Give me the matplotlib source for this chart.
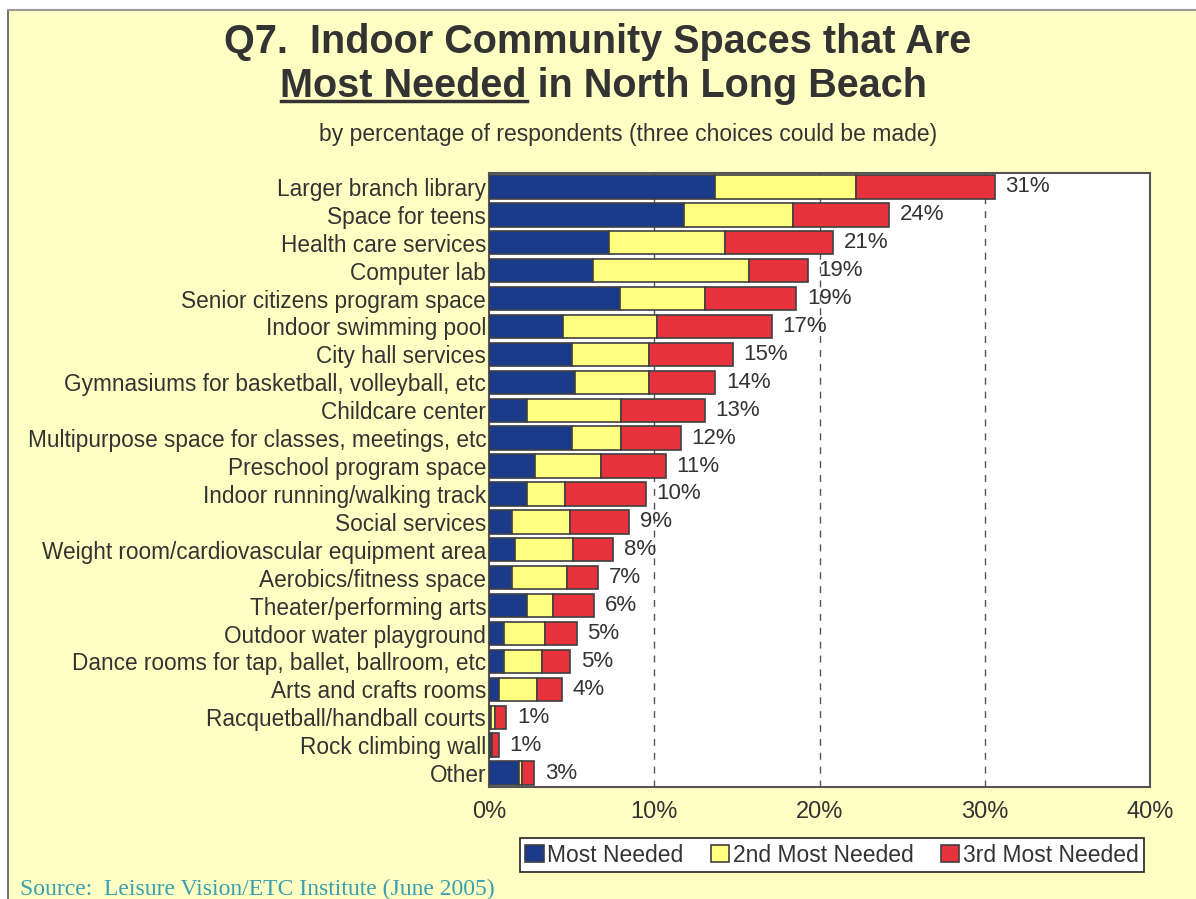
import numpy as np
import matplotlib
matplotlib.use("Agg")
import matplotlib.pyplot as plt
from matplotlib.lines import Line2D
from matplotlib.patches import Rectangle

categories = [
    "Larger branch library",
    "Space for teens",
    "Health care services",
    "Computer lab",
    "Senior citizens program space",
    "Indoor swimming pool",
    "City hall services",
    "Gymnasiums for basketball, volleyball, etc",
    "Childcare center",
    "Multipurpose space for classes, meetings, etc",
    "Preschool program space",
    "Indoor running/walking track",
    "Social services",
    "Weight room/cardiovascular equipment area",
    "Aerobics/fitness space",
    "Theater/performing arts",
    "Outdoor water playground",
    "Dance rooms for tap, ballet, ballroom, etc",
    "Arts and crafts rooms",
    "Racquetball/handball courts",
    "Rock climbing wall",
    "Other",
]
most_needed = [13.7, 11.8, 7.25, 6.3, 7.95, 4.5, 5.0, 5.2, 2.3, 5.0, 2.8,
               2.3, 1.4, 1.6, 1.4, 2.3, 0.9, 0.9, 0.6, 0.1, 0.1, 1.8]
second_needed = [8.5, 6.6, 7.05, 9.45, 5.15, 5.65, 4.7, 4.5, 5.7, 3.0, 4.0,
                 2.3, 3.5, 3.5, 3.3, 1.6, 2.5, 2.3, 2.3, 0.25, 0.1, 0.2]
third_needed = [8.4, 5.8, 6.5, 3.55, 5.5, 6.95, 5.05, 4.0, 5.05, 3.6, 3.9,
                4.9, 3.6, 2.4, 1.9, 2.45, 1.9, 1.7, 1.5, 0.7, 0.4, 0.75]
total_labels = ["31%", "24%", "21%", "19%", "19%", "17%", "15%", "14%", "13%",
                "12%", "11%", "10%", "9%", "8%", "7%", "6%", "5%", "5%", "4%",
                "1%", "1%", "3%"]
series_names = ["Most Needed", "2nd Most Needed", "3rd Most Needed"]
x_ticks = [0, 10, 20, 30, 40]

W, H = 1196, 899
BG = "#FFFFC4"
TXT = "#333333"
colors = ["#1C3A8A", "#FFFF80", "#E8323C"]

fig = plt.figure(figsize=(W / 100, H / 100), dpi=100)
fig.patch.set_facecolor("white")
# slide background with border on left/top
fig.patches.append(Rectangle((8 / W, 0), 1 - 8 / W, 1 - 10 / H, transform=fig.transFigure,
                             facecolor=BG, edgecolor="none", zorder=-10))
fig.lines.append(Line2D([8 / W, 8 / W], [0, 1 - 10 / H], transform=fig.transFigure,
                        color="#777777", lw=1.5))
fig.lines.append(Line2D([8 / W, 1], [1 - 10 / H, 1 - 10 / H], transform=fig.transFigure,
                        color="#999999", lw=1.5))

ax = fig.add_axes([489 / W, 1 - 787 / H, (1150 - 489) / W, (787 - 173) / H])
ax.set_facecolor("white")

y = np.arange(len(categories))
left = np.zeros(len(categories))
for vals, col, name in zip([most_needed, second_needed, third_needed], colors, series_names):
    ax.barh(y, vals, left=left, height=0.84, color=col, edgecolor="#404040",
            linewidth=1.2, label=name, zorder=3)
    left = left + np.array(vals)

for yi, tot, lab in zip(y, left, total_labels):
    ax.text(tot + 0.65, yi, lab, va="center", ha="left", fontsize=16, color=TXT,
            family="Liberation Sans", zorder=4)

ax.set_xlim(0, 40)
ax.set_ylim(len(categories) - 0.5, -0.5)
ax.set_xticks(x_ticks)
ax.set_xticklabels(["%d%%" % v for v in x_ticks], fontsize=17, color=TXT, family="Liberation Sans")
ax.set_yticks(y)
ax.set_yticklabels(categories, fontsize=16.3, color=TXT, family="Liberation Sans")
ax.tick_params(axis="both", length=0)
ax.tick_params(axis="x", pad=10)
ax.tick_params(axis="y", pad=2)
for gx in x_ticks[1:-1]:
    ax.axvline(gx, color="#555555", lw=1, ls=(0, (5, 5)), zorder=1)
for sp in ax.spines.values():
    sp.set_color("#555555")
    sp.set_linewidth(1.5)

# title
t1 = fig.text(598 / W, 1 - 42 / H, "Q7.  Indoor Community Spaces that Are", ha="center",
              va="center", fontsize=28.5, fontweight="bold", color=TXT, family="Liberation Sans")
t2 = fig.text(604 / W, 1 - 86 / H, "Most Needed in North Long Beach", ha="center",
              va="center", fontsize=28.5, fontweight="bold", color=TXT, family="Liberation Sans")
fig.canvas.draw()
r = fig.canvas.get_renderer()
bb = t2.get_window_extent(r)
tmp = fig.text(0, 0, "Most Needed", fontsize=28.5, fontweight="bold", family="Liberation Sans")
wpart = tmp.get_window_extent(r).width
tmp.remove()
uy = 1 - 101 / H
fig.lines.append(Line2D([bb.x0 / W, (bb.x0 + wpart) / W], [uy, uy], transform=fig.transFigure,
                        color=TXT, lw=2.5))

fig.text(628 / W, 1 - 135 / H, "by percentage of respondents (three choices could be made)",
         ha="center", va="center", fontsize=16.5, color=TXT, family="Liberation Sans")

leg = fig.legend(loc="center", bbox_to_anchor=(832 / W, 1 - 855 / H), ncol=3,
                 prop={"family": "Liberation Sans", "size": 16.5}, handlelength=0.8,
                 handleheight=0.75, handletextpad=0.15, columnspacing=1.2, borderpad=0.25,
                 fancybox=False, framealpha=1, edgecolor="#222222")
leg.get_frame().set_linewidth(1.2)
for t in leg.get_texts():
    t.set_color(TXT)

fig.text(20 / W, 1 - 889 / H, "Source:  Leisure Vision/ETC Institute (June 2005)",
         ha="left", va="center", fontsize=17, color="#3A9FB0", family="Liberation Serif")

fig.savefig("out.png", dpi=100, facecolor=fig.get_facecolor())
